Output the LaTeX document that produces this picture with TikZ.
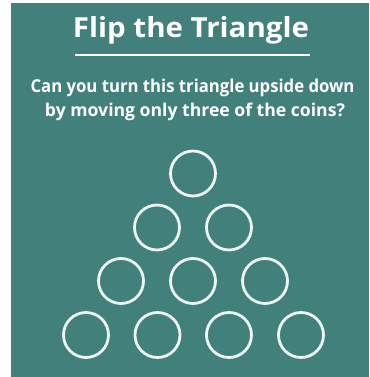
\documentclass[tikz,border=0pt]{standalone}
\usepackage{fontspec}
\setmainfont{Open Sans}
\definecolor{board}{HTML}{41807B}
\definecolor{ring}{HTML}{EEF4F2}
\begin{document}
\begin{tikzpicture}[x=1pt,y=-1pt,
  coin/.style={circle,draw=ring,line width=2.8pt,minimum size=45pt,inner sep=0pt},
  txt/.style={text=white,inner sep=0pt,anchor=base}]
\useasboundingbox (0,0) rectangle (369,377);
\fill[white] (0,0) rectangle (369,377);
\fill[board] (11,3) rectangle (369,377);
\node[txt] (title) at (191,38) {\resizebox{236pt}{21pt}{\bfseries Flip the Triangle}};
\draw[white,line width=2.6pt] (75,55) -- (310,55);
\node[txt] (l1) at (192.5,93) {\resizebox{324pt}{13.5pt}{\bfseries Can you turn this triangle upside down}};
\node[txt] (l2) at (195,117) {\resizebox{300pt}{13.5pt}{\bfseries by moving only three of the coins?}};
\node[coin] (c1) at (193,173.5) {};
\node[coin] (c2) at (157,227.5) {};
\node[coin] (c3) at (229,227.5) {};
\node[coin] (c4) at (121,281) {};
\node[coin] (c5) at (193,281) {};
\node[coin] (c6) at (265,281) {};
\node[coin] (c7) at (86,335) {};
\node[coin] (c8) at (157.5,335) {};
\node[coin] (c9) at (229,335) {};
\node[coin] (c10) at (301,335) {};
\end{tikzpicture}
\end{document}
